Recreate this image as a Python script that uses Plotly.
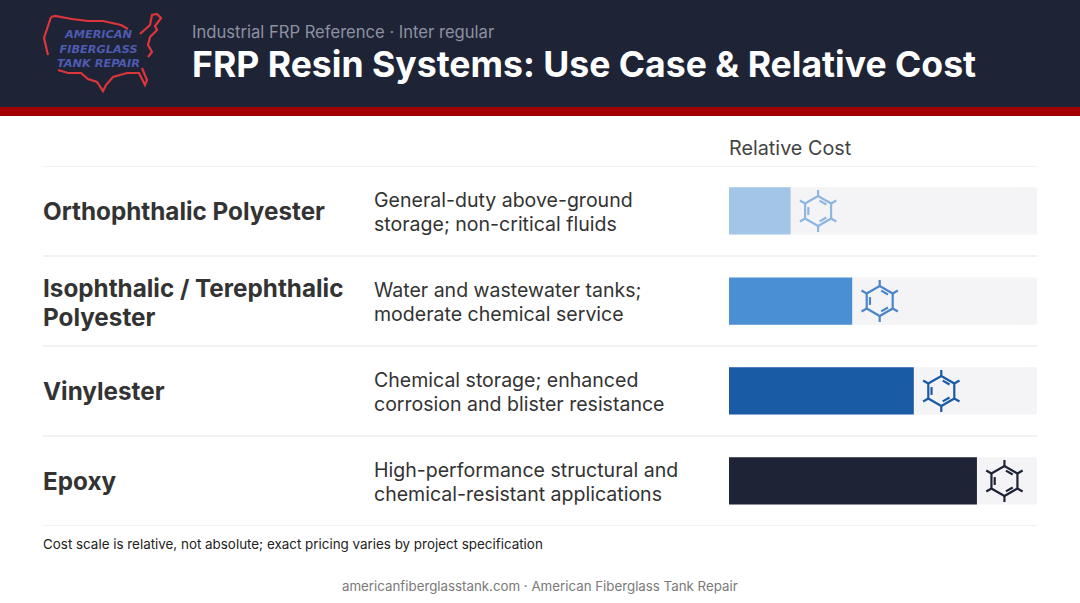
import math
import plotly.graph_objects as go

# ---- data ----
resins = ["Orthophthalic Polyester", "Isophthalic / Terephthalic<br>Polyester", "Vinylester", "Epoxy"]
uses = [
    "General-duty above-ground<br>storage; non-critical fluids",
    "Water and wastewater tanks;<br>moderate chemical service",
    "Chemical storage; enhanced<br>corrosion and blister resistance",
    "High-performance structural and<br>chemical-resistant applications",
]
relative_cost = [20, 40, 60, 80.5]
scale_max = [100, 100, 100, 100]
bar_colors = ["#a3c5e8", "#4a8fd4", "#1a5ba6", "#1e2336"]
icon_colors = ["#8fb6e0", "#4a86c8", "#1a5ba6", "#1e2336"]
logo_lines = ["AMERICAN", "FIBERGLASS", "TANK REPAIR"]

W, H = 1080, 603
NAVY = "#1e2336"
FONT = "Inter"

def px(x): return x / W
def py(y): return 1 - y / H

# plot area in pixels
L, R, T, B = 729, 1037, 166, 526
x_per_px = 100 / (R - L)
y_per_px = 4 / (B - T)
rows = list(range(len(resins)))

fig = go.Figure()
fig.add_trace(go.Bar(y=rows, x=scale_max, orientation="h", marker=dict(color="#f4f4f6", line_width=0),
                     width=0.525, hoverinfo="skip", showlegend=False))
fig.add_trace(go.Bar(y=rows, x=relative_cost, orientation="h", marker=dict(color=bar_colors, line_width=0),
                     width=0.525, hoverinfo="skip", showlegend=False))

def polar(cx, cy, r, deg):
    a = math.radians(deg)
    return cx + r * math.cos(a) * x_per_px, cy + r * math.sin(a) * y_per_px

# benzene-ring glyph just past each bar's end
for row, cost, colour in zip(rows, relative_cost, icon_colors):
    cx = cost + 27.5 * x_per_px
    cy = row
    xs, ys = [], []
    for k in range(7):
        X, Y = polar(cx, cy, 15, 90 + 60 * k)
        xs.append(X); ys.append(Y)
    xs.append(None); ys.append(None)
    for k in range(6):
        for rad in (15, 21):
            X, Y = polar(cx, cy, rad, 90 + 60 * k)
            xs.append(X); ys.append(Y)
        xs.append(None); ys.append(None)
    for k in (1, 3, 5):
        a0, a1 = 90 + 60 * k + 8, 90 + 60 * (k + 1) - 8
        for a in (a0, a1):
            X, Y = polar(cx, cy, 10.5, a)
            xs.append(X); ys.append(Y)
        xs.append(None); ys.append(None)
    fig.add_trace(go.Scatter(x=xs, y=ys, mode="lines", line=dict(color=colour, width=2.2),
                             hoverinfo="skip", showlegend=False))

shapes = [
    dict(type="rect", xref="paper", yref="paper", x0=0, x1=1, y0=py(107), y1=1, fillcolor=NAVY, line_width=0, layer="below"),
    dict(type="rect", xref="paper", yref="paper", x0=0, x1=1, y0=py(116), y1=py(107), fillcolor="#a50000", line_width=0, layer="below"),
]
for b in [-0.5, 0.5, 1.5, 2.5, 3.5]:
    shapes.append(dict(type="line", xref="paper", yref="y", x0=px(43), x1=px(1037), y0=b, y1=b,
                       line=dict(color="#e6e6e6", width=1.2), layer="below"))

# logo outline, pixels in the header
logo_parts = [
    [(51, 17), (55, 16), (72, 19), (88, 21), (103, 21), (121, 25), (128, 29)],
    [(140, 34), (150, 25), (152, 15), (157, 14), (161, 18), (155, 26), (157, 30), (150, 37), (148, 45), (152, 52), (148, 57)],
    [(142, 68), (147, 80), (145, 85), (139, 73), (127, 73), (113, 77), (106, 85), (103, 91), (97, 82), (88, 79), (81, 73), (68, 73), (58, 70)],
    [(51, 17), (44, 38), (48, 55)],
]
for part in logo_parts:
    d = "M " + " L ".join(f"{px(x):.5f} {py(y):.5f}" for x, y in part)
    shapes.append(dict(type="path", xref="paper", yref="paper", path=d, line=dict(color="#dc363a", width=2.2)))

def text(t, x, y, size, color, weight=400, anchor="left", family=FONT, style="normal", yref="paper"):
    fig.add_annotation(text=t, xref="paper", yref=yref, x=px(x), y=py(y) if yref == "paper" else y, showarrow=False,
                       xanchor=anchor, yanchor="middle", align=anchor,
                       font=dict(family=family, size=size, color=color, weight=weight, style=style))

text("Industrial FRP Reference · Inter regular", 190, 31.5, 16.6, "#8d91a0")
text("FRP Resin Systems: Use Case &amp; Relative Cost", 190, 65, 35.6, "#ffffff", 700)
text("Relative Cost", 727, 148, 19.8, "#444444", 400)
text("Cost scale is relative, not absolute; exact pricing varies by project specification", 41, 544, 13.4, "#222222")
text("americanfiberglasstank.com · American Fiberglass Tank Repair", 540, 586, 13.3, "#7a7a7a", anchor="center")

text("<br>".join(logo_lines), 98, 49, 11.3, "#4f5bb0", 700, "center", "DejaVu Sans", "italic")

def lines_block(row, label, x, size, weight, leading, nudge):
    parts = label.split("<br>")
    for i, part in enumerate(parts):
        off = ((i - (len(parts) - 1) / 2) * leading + nudge[len(parts) - 1]) * y_per_px
        text(part, x, row + off, size, "#333333", weight, yref="y")

for row, name, use in zip(rows, resins, uses):
    lines_block(row, name, 41, 24.25, 700, 29, (0, 1.5))
    lines_block(row, use, 372, 19.55, 400, 24, (0, 1))

fig.update_layout(
    width=W, height=H, autosize=False, barmode="overlay", barcornerradius=2,
    margin=dict(l=0, r=0, t=0, b=0), paper_bgcolor="#ffffff", plot_bgcolor="rgba(0,0,0,0)",
    shapes=shapes, showlegend=False, hovermode=False,
    xaxis=dict(domain=[px(L), px(R)], range=[0, 100], visible=False, fixedrange=True),
    yaxis=dict(domain=[py(B), py(T)], range=[3.5, -0.5], visible=False, fixedrange=True),
)
fig.write_html("out.html", config={"displayModeBar": False},
               post_script="document.body.style.margin='0';document.documentElement.style.overflow='hidden';")
